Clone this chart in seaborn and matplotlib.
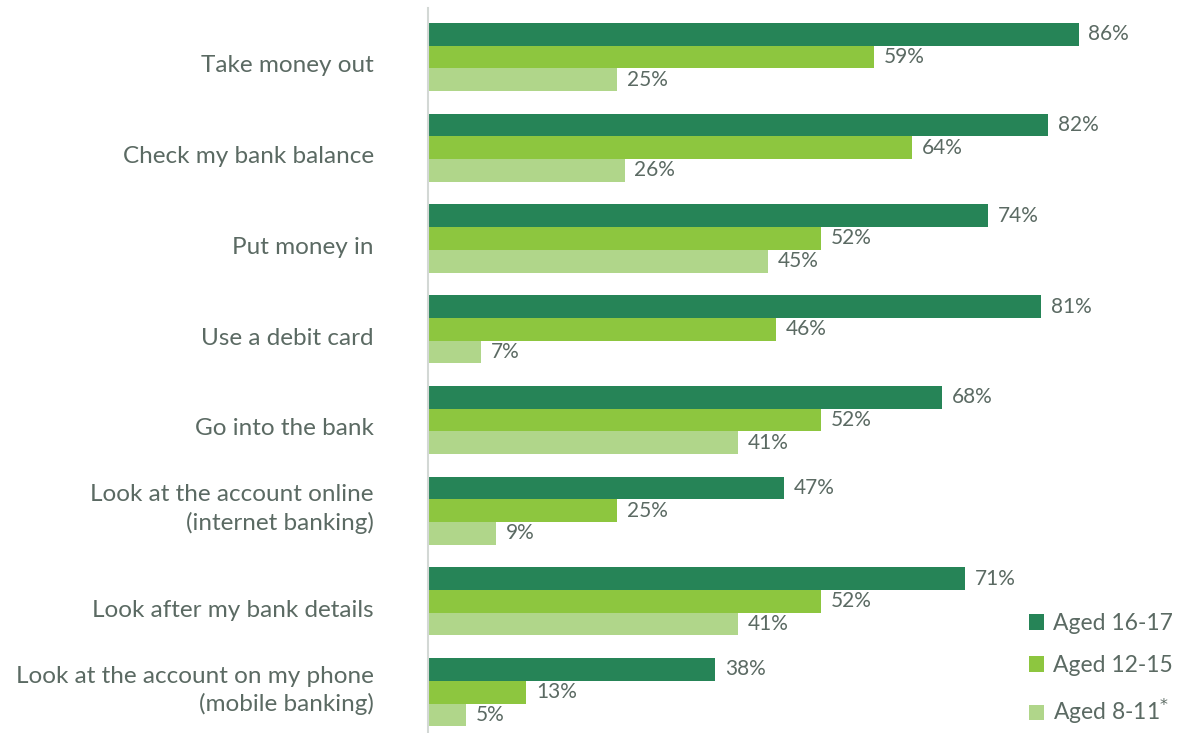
import matplotlib
matplotlib.use("Agg")
import matplotlib.pyplot as plt
import matplotlib.transforms as mtransforms
import seaborn as sns
import pandas as pd
from matplotlib.patches import Patch

categories = [
    "Take money out",
    "Check my bank balance",
    "Put money in",
    "Use a debit card",
    "Go into the bank",
    "Look at the account online\n(internet banking)",
    "Look after my bank details",
    "Look at the account on my phone\n(mobile banking)",
]
groups = ["Aged 16-17", "Aged 12-15", "Aged 8-11"]
aged_16_17 = [86, 82, 74, 81, 68, 47, 71, 38]
aged_12_15 = [59, 64, 52, 46, 52, 25, 52, 13]
aged_8_11 = [25, 26, 45, 7, 41, 9, 41, 5]
legend_labels = ["Aged 16-17", "Aged 12-15", "Aged 8-11$^{*}$"]

colors = ["#268457", "#8dc63f", "#b0d68a"]
text_color = "#5b6a63"

rows = []
for series, vals in zip(groups, [aged_16_17, aged_12_15, aged_8_11]):
    for cat, v in zip(categories, vals):
        rows.append({"activity": cat, "group": series, "pct": v})
df = pd.DataFrame(rows)

sns.set_theme(style="white")
plt.rcParams["font.family"] = ["Lato", "DejaVu Sans"]

fig = plt.figure(figsize=(11.77, 7.33), dpi=100)
ax = fig.add_axes([428 / 1177, 0.0, 1 - 428 / 1177, 1 - 8 / 733])

sns.barplot(
    data=df, y="activity", x="pct", hue="group",
    order=categories, hue_order=groups, palette=colors,
    orient="h", width=0.75, dodge=True, saturation=1,
    linewidth=0, legend=False, ax=ax,
)

for container in ax.containers:
    ax.bar_label(container, labels=[f"{int(v)}%" for v in container.datavalues],
                 padding=7, fontsize=15, color=text_color)

ax.set_xlim(0, 99)
ax.set_ylim(7.45, -0.54)
ax.set_xlabel("")
ax.set_ylabel("")
ax.set_xticks([])
ax.tick_params(axis="y", length=0, pad=39, labelsize=17.5, labelcolor=text_color)
for lbl in ax.get_yticklabels():
    lbl.set_horizontalalignment("right")
    lbl.set_linespacing(1.35)
    # single-line labels sit a little low, wrapped ones a little high
    dy = -7 if "\n" in lbl.get_text() else 7
    lbl.set_transform(lbl.get_transform() +
                      mtransforms.ScaledTranslation(0, -dy / 100, fig.dpi_scale_trans))

for side in ["top", "right", "bottom"]:
    ax.spines[side].set_visible(False)
ax.spines["left"].set_color("#d3d8d5")
ax.spines["left"].set_linewidth(1.5)

handles = [Patch(facecolor=c, edgecolor="none") for c in colors]
leg = fig.legend(handles, legend_labels, loc="upper left",
                 bbox_to_anchor=(1029 / 1177, 1 - 613 / 733),
                 frameon=False, fontsize=16.5, handlelength=0.65, handleheight=0.65,
                 handletextpad=0.4, labelspacing=0.92, borderaxespad=0, borderpad=0)
for t in leg.get_texts():
    t.set_color(text_color)

fig.savefig("out.png", dpi=100)
